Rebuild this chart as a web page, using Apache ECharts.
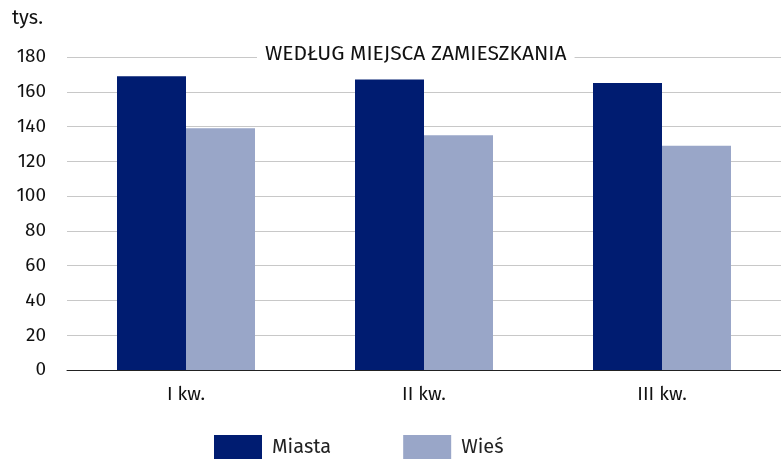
<!DOCTYPE html>
<html><head><meta charset="utf-8">
<script src="https://cdn.jsdelivr.net/npm/echarts@6/dist/echarts.min.js"></script>
<style>html,body{margin:0;padding:0;background:#fff}#c{width:781px;height:459px}</style>
</head><body><div id="c"></div>
<script>
const categories = ['I kw.', 'II kw.', 'III kw.'];
const miasta = [169, 167, 165];
const wies = [139, 135, 129];
const yTicks = [0, 20, 40, 60, 80, 100, 120, 140, 160, 180];
const seriesNames = ['Miasta', 'Wieś'];
const F = '"Fira Sans","Noto Sans","Open Sans",sans-serif';
const chart = echarts.init(document.getElementById('c'));
chart.setOption({
  animation: false,
  textStyle: {fontFamily: F},
  grid: {left: 67, right: -6, top: 57, bottom: 89},
  title: {
    text: 'WEDŁUG MIEJSCA ZAMIESZKANIA', left: 257, top: 44,
    backgroundColor: '#fff', padding: [0, 8],
    textStyle: {fontFamily: F, fontSize: 21, fontWeight: 'normal', color: '#111'}
  },
  graphic: [{type: 'text', left: 12, top: 8, style: {text: 'tys.', font: '20px ' + F, fill: '#111'}}],
  legend: {
    top: 435, left: 214, padding: 0, itemWidth: 48, itemHeight: 24, itemGap: 72, icon: 'rect',
    textStyle: {fontFamily: F, fontSize: 20, color: '#222', padding: [0, 0, 0, 5]},
    data: seriesNames
  },
  xAxis: {
    type: 'category', data: categories,
    axisLine: {lineStyle: {color: '#222'}},
    axisTick: {length: 6, lineStyle: {color: '#777'}},
    axisLabel: {fontSize: 19, color: '#111', margin: 15}
  },
  yAxis: {
    type: 'value', min: 0, max: 180, interval: 20,
    axisLabel: {fontSize: 19, color: '#111', margin: 21,
      formatter: v => yTicks.includes(v) ? String(v) : ''},
    splitLine: {lineStyle: {color: '#c8c8c8', width: 1}}
  },
  series: [
    {name: seriesNames[0], type: 'bar', data: miasta, barWidth: 69, barGap: '0%',
     itemStyle: {color: '#001c71'}},
    {name: seriesNames[1], type: 'bar', data: wies, barWidth: 69,
     itemStyle: {color: '#99a6c8'}}
  ]
});
</script></body></html>
